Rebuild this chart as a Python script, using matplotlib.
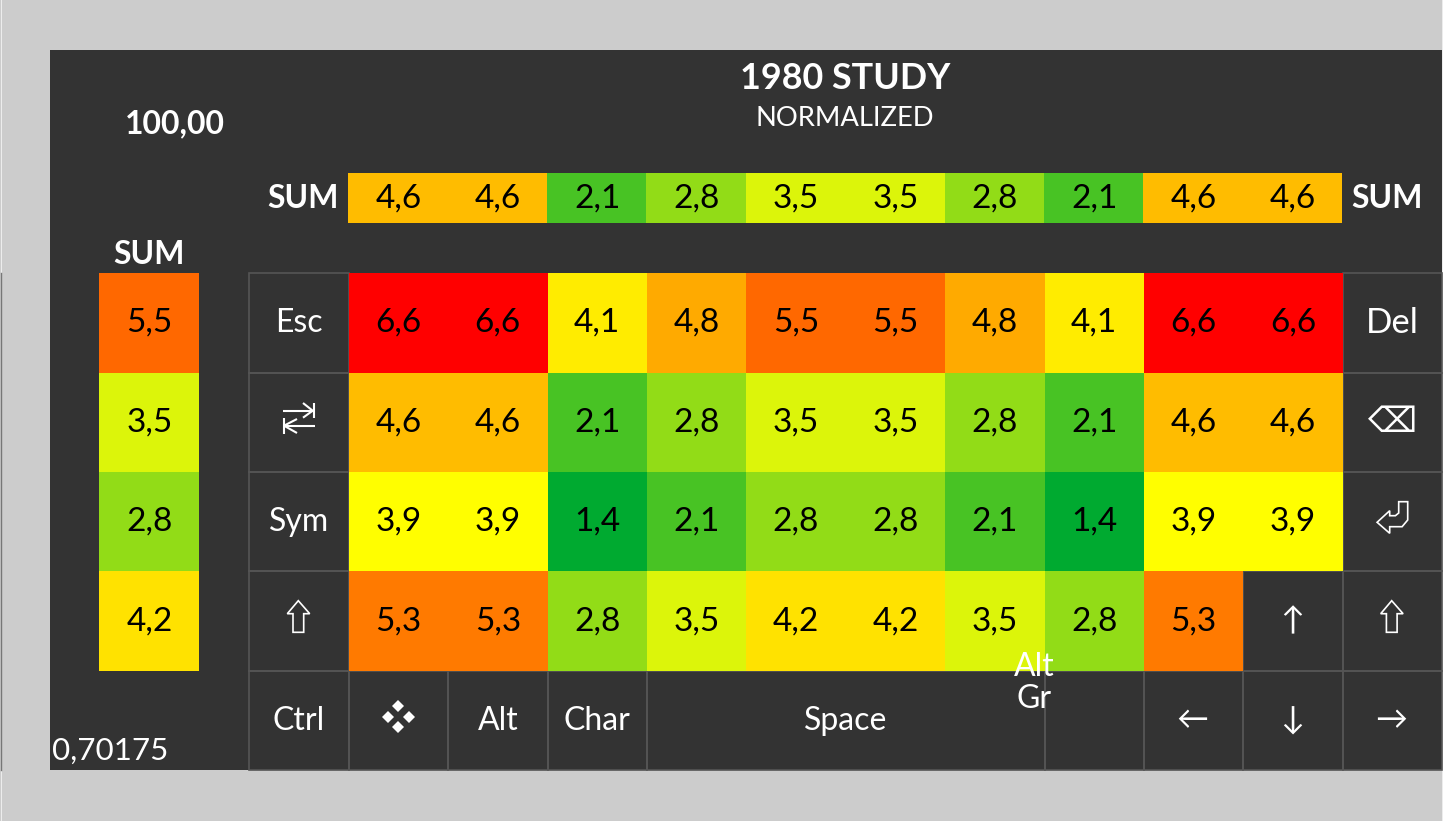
import matplotlib
matplotlib.use("Agg")
import matplotlib.pyplot as plt
import numpy as np
from matplotlib.colors import LinearSegmentedColormap, TwoSlopeNorm
from matplotlib.patches import Polygon, Rectangle

plt.rcParams['font.family'] = ['Lato', 'DejaVu Sans']

title = "1980 STUDY"
subtitle = "NORMALIZED"
total_label = "100,00"
scale_label = "0,70175"
sum_label = "SUM"

top_sum = [4.6, 4.6, 2.1, 2.8, 3.5, 3.5, 2.8, 2.1, 4.6, 4.6]
left_sum = [5.5, 3.5, 2.8, 4.2]
row_esc = [6.6, 6.6, 4.1, 4.8, 5.5, 5.5, 4.8, 4.1, 6.6, 6.6]
row_tab = [4.6, 4.6, 2.1, 2.8, 3.5, 3.5, 2.8, 2.1, 4.6, 4.6]
row_sym = [3.9, 3.9, 1.4, 2.1, 2.8, 2.8, 2.1, 1.4, 3.9, 3.9]
row_shift = [5.3, 5.3, 2.8, 3.5, 4.2, 4.2, 3.5, 2.8, 5.3, np.nan]

left_keys = ["Esc", "", "Sym", ""]
right_keys = ["Del", "\u232b", "", ""]
# label, first column, width in columns
bottom_keys = [("Ctrl", 0, 1), ("", 1, 1), ("Alt", 2, 1), ("Char", 3, 1),
               ("Space", 4, 4), ("", 8, 1), ("\u2190", 9, 1), ("\u2193", 10, 1), ("\u2192", 11, 1)]

BG = "#cccccc"
PANEL = "#333333"
GRID = "#555555"
KEY = 99.4  # pixels per key
W, H = 1443, 821
X0, Y0 = 249.3, 273.2  # pixel position of the key grid

cmap = LinearSegmentedColormap.from_list(
    "heat", [(0, "#00aa30"), (0.42, "#dcf50a"), (0.5, "#ffff00"), (1, "#ff0000")])
norm = TwoSlopeNorm(vmin=1.4, vcenter=3.9, vmax=6.6)

fig = plt.figure(figsize=(W / 100, H / 100), dpi=100, facecolor=BG)
ax = fig.add_axes([0, 0, 1, 1])
# data units are keys, origin at top left of the Esc key
ax.set_xlim(-X0 / KEY, (W - X0) / KEY)
ax.set_ylim((H - Y0) / KEY, -Y0 / KEY)
ax.axis("off")


def px(x, y):
    return (x - X0) / KEY, (y - Y0) / KEY


ax.add_patch(Rectangle(px(50, 50), 1392 / KEY, 720 / KEY, facecolor=PANEL, edgecolor="none", zorder=0))
# stray edges of the screenshot
for xp in (0.5, 1442.5):
    ax.plot([px(xp, 0)[0]] * 2, [px(0, 0)[1], px(0, H)[1]], color="#eeeeee", lw=0.7, zorder=1)
ax.plot([px(0.5, 0)[0]] * 2, [0, 5], color="#777777", lw=1.0, zorder=1)


def key(x, y, w=1, h=1):
    ax.add_patch(Rectangle((x, y), w, h, facecolor="none", edgecolor=GRID, lw=1.2, zorder=2))


def label(x, y, s, size=23, color="white", **kw):
    ax.text(x, y, s, fontsize=size, color=color, ha="center", va="center", zorder=5, **kw)


def heat(x_edges, y_edges, values):
    ax.pcolormesh(x_edges, y_edges, np.ma.masked_invalid(values), cmap=cmap, norm=norm, zorder=3)


def fmt(v):
    return f"{v:.1f}".replace(".", ",")


# main heat grid
matrix = np.array([row_esc, row_tab, row_sym, row_shift])
heat(np.arange(1, 12), np.arange(0, 5), matrix)
for r in range(4):
    for c in range(10):
        if not np.isnan(matrix[r, c]):
            label(c + 1.5, r + 0.5, fmt(matrix[r, c]), size=24, color="black")

# top sum strip
strip_top = px(0, 173)[1]
strip_bottom = px(0, 223)[1]
heat(np.arange(11) + 0.995, [strip_top, strip_bottom], np.array([top_sum]))
for c, v in enumerate(top_sum):
    label(c + 1.5, (strip_top + strip_bottom) / 2 + 0.01, fmt(v), size=24, color="black")

# left sum strip
heat([px(99, 0)[0], px(199, 0)[0]], np.arange(0, 5), np.array(left_sum).reshape(-1, 1))
for r, v in enumerate(left_sum):
    label(px(149.7, 0)[0], r + 0.5, fmt(v), size=24, color="black")

# keys
for r in range(4):
    key(0, r)
    key(11, r)
    label(0.5, r + 0.5, left_keys[r])
    label(11.5, r + 0.5, right_keys[r], size=25)
key(10, 3)
label(10.49, 3.5, "\u2191")
for s, c, w in bottom_keys:
    key(c, 4, w)
    label(c + w / 2 - (0.012 if c > 8 else 0), 4.5, s)
ax.text(px(1034.5, 0)[0], px(0, 683)[1], "Alt\nGr", fontsize=23, color="white", ha="center",
        va="center", linespacing=1.1, zorder=6)


# icons that have no matching glyph, drawn in pixel offsets from the key centre
def icon(col, row, pts, closed=False, lw=1.2):
    cx, cy = col + 0.5, row + 0.5
    xy = [(cx + a / KEY, cy + b / KEY) for a, b in pts]
    if closed:
        ax.add_patch(Polygon(xy, closed=True, facecolor="none", edgecolor="white", lw=lw, zorder=5))
    else:
        ax.plot(*zip(*xy), color="white", lw=lw, zorder=5, solid_capstyle="butt")


shift_icon = [(-0.7, -20.4), (-11.7, -7.4), (-6, -7.4), (-6, 11.2), (4.7, 11.2), (4.7, -7.4), (10.7, -7.4)]
icon(0, 3, shift_icon, closed=True)
icon(11, 3, shift_icon, closed=True)

tab_top = [(-16.3, -11.6), (13.7, -11.6)]
tab_top_head = [(4, -19.3), (13.7, -11.6), (4, -4.6)]
tab_top_bar = [(15, -19.6), (15, -4)]
tab_low = [(16, 3.4), (-15, 3.4)]
tab_low_head = [(-2, -3.3), (-15, 3.4), (-2, 10.7)]
tab_low_bar = [(-15.5, -4.3), (-15.5, 11.7)]
for part in (tab_top, tab_top_head, tab_top_bar, tab_low, tab_low_head, tab_low_bar):
    icon(0, 1, part, lw=1.5)

enter_icon = [(-15.3, 0.6), (-2.7, -11), (-2.7, -6), (3, -6), (6.3, -8.7), (6.3, -20), (15.3, -20),
              (15.3, -1.7), (9.7, 5), (-2.7, 5), (-2.7, 11.6)]
icon(11, 2, enter_icon, closed=True)

# four diamonds of the menu key
for a, b in [(0, -14.8), (-10.8, -3.8), (10.8, -3.8), (0, 6.8)]:
    ax.plot(1.5 + a / KEY, 4.5 + b / KEY, marker="D", ms=6.5, color="white", mew=0, zorder=5)

# headings
label(5.993, px(0, 79)[1], title, size=25.8, fontweight="bold")
label(5.993, px(0, 119)[1], subtitle, size=19.7)
label(px(175, 0)[0], px(0, 124)[1], total_label, size=23, fontweight="bold")
label(px(303, 0)[0], px(0, 199)[1], sum_label, size=23, fontweight="bold")
label(px(1387.5, 0)[0], px(0, 199)[1], sum_label, size=23, fontweight="bold")
label(px(149, 0)[0], px(0, 255)[1], sum_label, size=23, fontweight="bold")
ax.text(px(52, 0)[0], px(0, 751)[1], scale_label, fontsize=22.6, color="white", ha="left",
        va="center", zorder=5)

fig.savefig("out.png", dpi=100, facecolor=BG)
